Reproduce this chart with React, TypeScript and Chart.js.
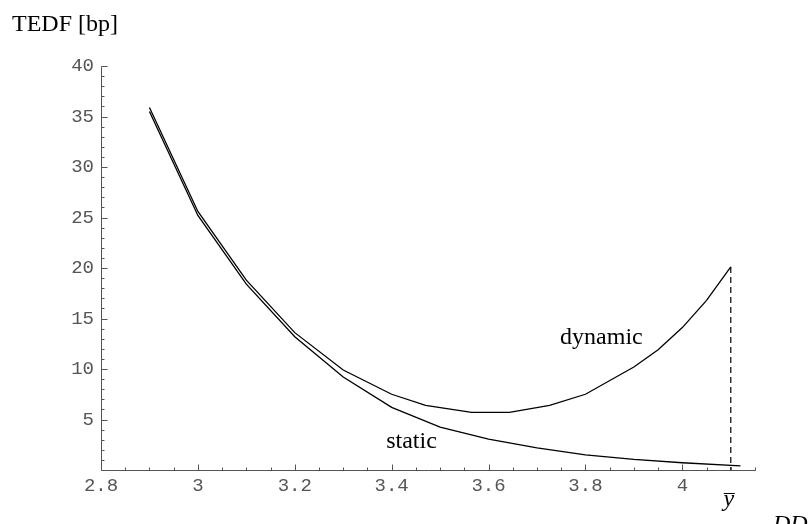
import React, { useEffect, useRef } from 'react';
import { Chart, registerables } from 'chart.js';
Chart.register(...registerables);

const staticX = [2.9, 3.0, 3.1, 3.2, 3.3, 3.4, 3.5, 3.6, 3.7, 3.8, 3.9, 4.0, 4.12];
const staticY = [35.5, 25.2, 18.4, 13.2, 9.2, 6.2, 4.25, 3.05, 2.2, 1.5, 1.05, 0.72, 0.4];

const dynamicX = [2.9, 3.0, 3.1, 3.2, 3.3, 3.4, 3.47, 3.565, 3.643, 3.726, 3.8, 3.9, 3.95, 4.0, 4.05, 4.1];
const dynamicY = [35.9, 25.6, 18.8, 13.6, 9.9, 7.5, 6.4, 5.7, 5.7, 6.4, 7.5, 10.2, 11.9, 14.1, 16.8, 20.1];

const yBarX = 4.1;
const yBarTop = 20.1;

const xMajorTicks = [2.8, 3.0, 3.2, 3.4, 3.6, 3.8, 4.0];
const xTickLabels = ['2.8', '3', '3.2', '3.4', '3.6', '3.8', '4'];
const yMajorTicks = [5, 10, 15, 20, 25, 30, 35, 40];
const yTickLabels = ['5', '10', '15', '20', '25', '30', '35', '40'];

const X_MIN = 2.8, X_MAX = 4.15, Y_MIN = 0, Y_MAX = 40;
const X_MINOR = 0.05, Y_MINOR = 1;

const axisColor = '#555';
const serif = '"Liberation Serif", "Times New Roman", serif';
const mono = '"Liberation Mono", "Courier New", monospace';

const axesPlugin = {
  id: 'mmaAxes',
  afterDraw(chart: any) {
    const { ctx, chartArea, scales } = chart;
    const xs = scales.x, ys = scales.y;
    const x0 = Math.round(chartArea.left) + 0.5;
    const y0 = Math.round(chartArea.bottom) + 0.5;
    ctx.save();
    ctx.strokeStyle = axisColor;
    ctx.lineWidth = 1;
    ctx.beginPath();
    ctx.moveTo(x0, y0);
    ctx.lineTo(Math.round(chartArea.right) + 0.5, y0);
    ctx.moveTo(x0, y0);
    ctx.lineTo(x0, Math.round(chartArea.top) + 0.5);
    const nx = Math.round((X_MAX - X_MIN) / X_MINOR);
    for (let i = 0; i <= nx; i++) {
      const v = X_MIN + i * X_MINOR;
      const major = i % 4 === 0;
      const px = Math.round(xs.getPixelForValue(v)) + 0.5;
      ctx.moveTo(px, y0);
      ctx.lineTo(px, y0 - (major ? 6 : 3));
    }
    const ny = Math.round((Y_MAX - Y_MIN) / Y_MINOR);
    for (let i = 1; i <= ny; i++) {
      const v = Y_MIN + i * Y_MINOR;
      const major = i % 5 === 0;
      const py = Math.round(ys.getPixelForValue(v)) + 0.5;
      ctx.moveTo(x0, py);
      ctx.lineTo(x0 + (major ? 6 : 3), py);
    }
    ctx.stroke();

    ctx.fillStyle = '#000';
    ctx.textBaseline = 'alphabetic';
    ctx.font = `24px ${serif}`;
    ctx.textAlign = 'left';
    ctx.fillText('TEDF [bp]', 12, 31);
    ctx.textAlign = 'center';
    ctx.fillText('dynamic', xs.getPixelForValue(3.833), ys.getPixelForValue(12.5));
    ctx.fillText('static', xs.getPixelForValue(3.441), ys.getPixelForValue(2.2));
    ctx.font = `italic 24px ${serif}`;
    const yb = xs.getPixelForValue(yBarX);
    ctx.fillText('y', yb - 2, chartArea.bottom + 36);
    ctx.strokeStyle = '#000';
    ctx.beginPath();
    ctx.moveTo(yb - 7, chartArea.bottom + 23.5);
    ctx.lineTo(yb + 4, chartArea.bottom + 23.5);
    ctx.stroke();
    ctx.textAlign = 'left';
    ctx.fillText('DD', 773, 531);
    ctx.restore();
  },
};

export default function App() {
  const ref = useRef<HTMLCanvasElement>(null);
  useEffect(() => {
    if (!ref.current) return;
    const chart = new Chart(ref.current, {
      type: 'line',
      data: {
        datasets: [
          {
            label: 'static',
            data: staticX.map((x, i) => ({ x, y: staticY[i] })),
            borderColor: '#000',
            borderWidth: 1.3,
            pointRadius: 0,
            tension: 0,
            fill: false,
          },
          {
            label: 'dynamic',
            data: dynamicX.map((x, i) => ({ x, y: dynamicY[i] })),
            borderColor: '#000',
            borderWidth: 1.3,
            pointRadius: 0,
            tension: 0,
            fill: false,
          },
          {
            label: 'ybar',
            data: [{ x: yBarX, y: yBarTop }, { x: yBarX, y: 0 }],
            borderColor: '#000',
            borderWidth: 1.2,
            borderDash: [6, 4],
            pointRadius: 0,
            fill: false,
          },
        ],
      },
      options: {
        responsive: false,
        animation: false,
        devicePixelRatio: 1,
        layout: { padding: { left: 0, top: 66, right: 56, bottom: 0 } },
        plugins: { legend: { display: false }, tooltip: { enabled: false } },
        scales: {
          x: {
            type: 'linear',
            min: X_MIN,
            max: X_MAX,
            grid: { display: false, drawTicks: false },
            border: { display: false },
            afterBuildTicks: (s: any) => {
              s.ticks = xMajorTicks.map((v) => ({ value: v }));
            },
            afterFit: (s: any) => {
              s.height = 54;
            },
            ticks: {
              autoSkip: false,
              maxRotation: 0,
              padding: 5,
              color: axisColor,
              font: { family: mono, size: 19 },
              callback: (_v: any, i: number) => xTickLabels[i],
            },
          },
          y: {
            type: 'linear',
            min: Y_MIN,
            max: Y_MAX,
            grid: { display: false, drawTicks: false },
            border: { display: false },
            afterBuildTicks: (s: any) => {
              s.ticks = yMajorTicks.map((v) => ({ value: v }));
            },
            afterFit: (s: any) => {
              s.width = 101;
            },
            ticks: {
              autoSkip: false,
              padding: 7,
              color: axisColor,
              font: { family: mono, size: 19 },
              callback: (_v: any, i: number) => yTickLabels[i],
            },
          },
        },
      },
      plugins: [axesPlugin],
    });
    return () => chart.destroy();
  }, []);
  return (
    <div style={{ position: 'absolute', left: 0, top: 0, width: 811, height: 524 }}>
      <canvas ref={ref} width={811} height={524} style={{ display: 'block' }} />
    </div>
  );
}
